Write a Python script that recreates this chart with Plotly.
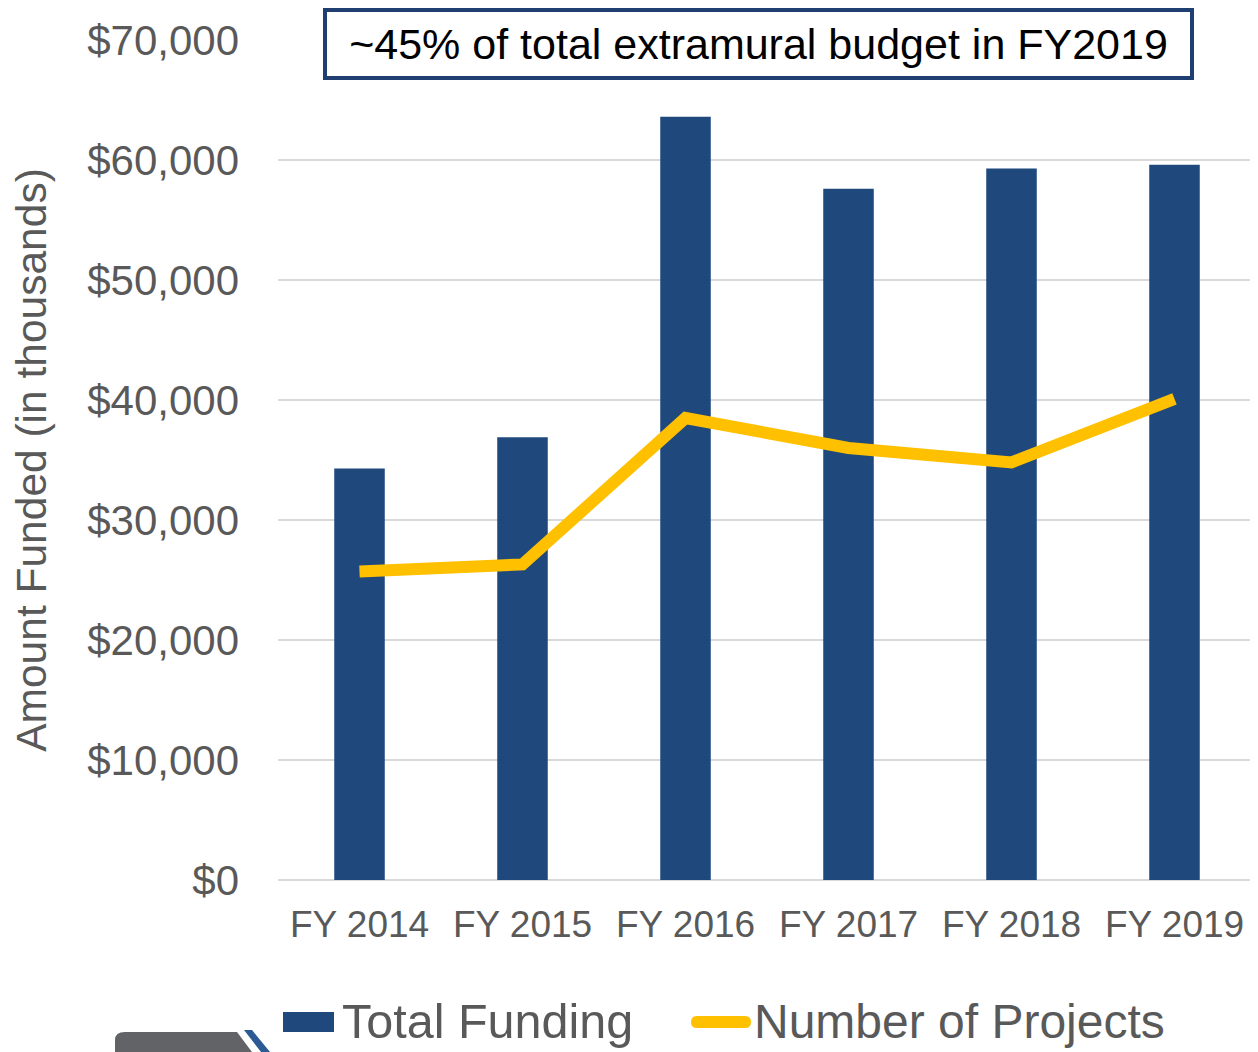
import plotly.graph_objects as go

years = ["FY 2014", "FY 2015", "FY 2016", "FY 2017", "FY 2018", "FY 2019"]
total_funding = [34300, 36900, 63600, 57600, 59300, 59600]
num_projects = [25700, 26300, 38500, 36000, 34800, 40100]
y_ticks = [0, 10000, 20000, 30000, 40000, 50000, 60000, 70000]
y_tick_text = ["$0", "$10,000", "$20,000", "$30,000", "$40,000", "$50,000", "$60,000", "$70,000"]

BAR = "#1F497D"
LINE = "#FFC000"
GRAY = "#595959"
FONT = "Liberation Sans, Arial, sans-serif"

OFF = 8  # page body margin
W, H = 1250, 1044
L, R, T, B = 270, 2, 32, 172
PW, PH = W - L - R, H - T - B


def px(x):  # screen pixel -> paper x
    return (x - OFF - L) / PW


def py(y):  # screen pixel -> paper y
    return (H - B - (y - OFF)) / PH


fig = go.Figure()
fig.add_trace(go.Bar(x=years, y=total_funding, name="Total Funding",
                     marker=dict(color=BAR, line=dict(width=0)), width=0.31,
                     showlegend=False))
fig.add_trace(go.Scatter(x=years, y=num_projects, name="Number of Projects",
                         mode="lines", line=dict(color=LINE, width=12),
                         showlegend=False))

fig.update_layout(
    width=W, height=H,
    margin=dict(l=L, r=R, t=T, b=B, autoexpand=False),
    paper_bgcolor="white", plot_bgcolor="white",
    font=dict(family=FONT, color=GRAY),
    showlegend=False,
    xaxis=dict(showgrid=False, showline=False, ticks="", tickfont=dict(size=37, color=GRAY),
               ticklabelstandoff=19, fixedrange=True),
    yaxis=dict(range=[0, 70000], tickvals=y_ticks, ticktext=y_tick_text,
               showgrid=True, gridcolor="#D9D9D9", gridwidth=2, zeroline=True,
               zerolinecolor="#D9D9D9", zerolinewidth=2, showline=False, ticks="",
               tickfont=dict(size=42, color=GRAY), ticklabelstandoff=38,
               title=dict(text="Amount Funded (in thousands)", font=dict(size=42.5, color=GRAY),
                          standoff=44),
               fixedrange=True),
)

fig.add_annotation(
    xref="paper", yref="paper", x=px(758.5), y=py(44), xanchor="center", yanchor="middle",
    text="~45% of total extramural budget in FY2019", showarrow=False,
    font=dict(size=43, color="black", family=FONT),
    bordercolor="#1F3F70", borderwidth=4, borderpad=0, bgcolor="white",
    width=863, height=64, align="center",
)

# legend (drawn manually to match the large legend keys)
fig.add_shape(type="rect", xref="paper", yref="paper",
              x0=px(283), x1=px(334), y0=py(1032), y1=py(1012),
              fillcolor=BAR, line=dict(width=0))
fig.add_annotation(xref="paper", yref="paper", x=px(340), y=py(1021),
                   xanchor="left", yanchor="middle", text="Total Funding", showarrow=False,
                   font=dict(size=48.5, color=GRAY, family=FONT))
fig.add_shape(type="path", xref="paper", yref="paper",
              path=(f"M {px(697)},{py(1016)} L {px(745)},{py(1016)} "
                    f"Q {px(751)},{py(1016)} {px(751)},{py(1022)} "
                    f"Q {px(751)},{py(1028)} {px(745)},{py(1028)} "
                    f"L {px(697)},{py(1028)} "
                    f"Q {px(691)},{py(1028)} {px(691)},{py(1022)} "
                    f"Q {px(691)},{py(1016)} {px(697)},{py(1016)} Z"),
              fillcolor=LINE, line=dict(width=0))
fig.add_annotation(xref="paper", yref="paper", x=px(752), y=py(1021),
                   xanchor="left", yanchor="middle", text="Number of Projects", showarrow=False,
                   font=dict(size=48, color=GRAY, family=FONT))

# partial logo at bottom-left
fig.add_shape(type="path", xref="paper", yref="paper",
              path=f"M {px(115)},{py(1052)} L {px(115)},{py(1040)} Q {px(115)},{py(1032)} {px(125)},{py(1032)} "
                   f"L {px(237)},{py(1032)} L {px(252)},{py(1052)} Z",
              fillcolor="#626366", line=dict(width=0), layer="above")
fig.add_shape(type="path", xref="paper", yref="paper",
              path=f"M {px(244)},{py(1030)} L {px(252)},{py(1030)} L {px(270)},{py(1052)} L {px(261)},{py(1052)} Z",
              fillcolor="#2B5A95", line=dict(width=0), layer="above")

fig.write_html("out.html")
